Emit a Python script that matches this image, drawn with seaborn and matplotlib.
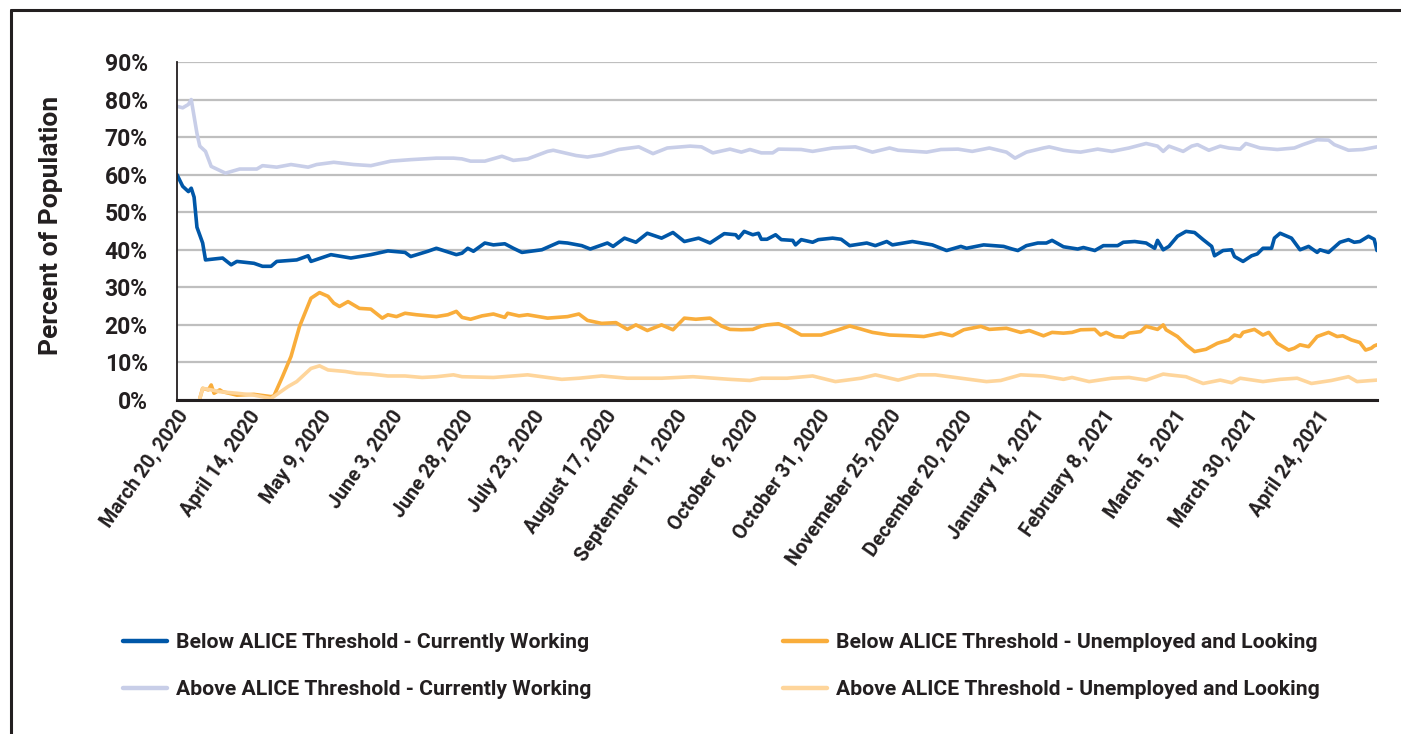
import pandas as pd
import matplotlib
matplotlib.use("Agg")
import matplotlib.pyplot as plt
from matplotlib.lines import Line2D
import seaborn as sns

# Series: day offset from March 20, 2020 and percent of population
bw_days = [0, 2, 4, 5, 6, 7, 9, 10, 16, 19, 21, 27, 30, 33, 35, 42, 46, 47, 54, 61, 68, 74, 80, 82,
           88, 91, 98, 100, 102, 104, 108, 111, 115, 118, 121, 128, 134, 137, 142, 145, 151, 153,
           157, 161, 165, 170, 174, 178, 183, 187, 192, 196, 197, 199, 202, 204, 205, 207, 210,
           212, 216, 217, 219, 223, 225, 230, 233, 236, 242, 245, 249, 251, 258, 265, 270, 275,
           277, 283, 290, 293, 295, 298, 302, 305, 307, 311, 316, 318, 322, 325, 330, 332, 336,
           340, 343, 344, 346, 348, 351, 354, 357, 360, 363, 364, 367, 370, 371, 374, 377, 379,
           381, 384, 385, 387, 391, 394, 397, 400, 401, 404, 408, 411, 413, 415, 418, 420, 421]
bw_vals = [60.0, 56.9, 55.5, 56.4, 54.0, 46.0, 41.8, 37.3, 37.8, 36.0, 36.9, 36.4, 35.6, 35.6, 36.9,
           37.3, 38.4, 36.9, 38.7, 37.8, 38.7, 39.7, 39.3, 38.2, 39.6, 40.4, 38.7, 39.1, 40.4, 39.6,
           41.8, 41.3, 41.6, 40.4, 39.3, 40.0, 42.0, 41.8, 41.1, 40.2, 41.8, 40.9, 43.1, 42.0, 44.4,
           43.1, 44.6, 42.2, 43.1, 41.8, 44.3, 44.0, 43.1, 44.9, 44.0, 44.4, 42.8, 42.8, 44.0, 42.7,
           42.5, 41.3, 42.7, 42.0, 42.7, 43.1, 42.8, 41.1, 41.8, 41.1, 42.2, 41.3, 42.2, 41.3, 39.8,
           40.9, 40.4, 41.3, 40.9, 40.2, 39.8, 41.1, 41.8, 41.8, 42.5, 40.8, 40.2, 40.6, 39.8, 41.1,
           41.1, 42.0, 42.2, 41.8, 40.4, 42.5, 40.0, 40.9, 43.6, 44.9, 44.6, 42.7, 40.9, 38.4, 39.8,
           40.0, 38.2, 36.9, 38.4, 38.9, 40.4, 40.4, 43.1, 44.4, 43.1, 40.0, 40.9, 39.3, 40.0, 39.3,
           42.0, 42.7, 42.0, 42.2, 43.6, 42.8, 39.8]

aw_days = [0, 2, 4, 5, 7, 8, 10, 12, 17, 22, 28, 30, 35, 40, 46, 49, 55, 62, 68, 75, 82, 91, 97,
           100, 103, 108, 114, 118, 123, 130, 132, 140, 144, 149, 155, 162, 167, 172, 180, 184,
           188, 194, 198, 201, 205, 209, 211, 219, 223, 230, 238, 244, 250, 253, 263, 268, 274,
           279, 285, 291, 294, 298, 304, 306, 311, 314, 317, 323, 328, 334, 340, 344, 346, 348,
           353, 356, 358, 362, 366, 369, 373, 375, 380, 386, 392, 395, 400, 404, 406, 411, 416, 421]
aw_vals = [78.2, 77.8, 78.7, 80.0, 71.0, 67.6, 66.2, 62.2, 60.4, 61.5, 61.5, 62.4, 62.0, 62.7, 62.0,
           62.7, 63.3, 62.7, 62.4, 63.6, 64.0, 64.4, 64.4, 64.2, 63.6, 63.6, 64.9, 63.8, 64.2, 66.2,
           66.5, 65.1, 64.7, 65.3, 66.7, 67.4, 65.6, 67.1, 67.6, 67.4, 65.8, 66.8, 66.0, 66.7, 65.8,
           65.8, 66.8, 66.7, 66.2, 67.1, 67.4, 66.0, 67.1, 66.5, 66.0, 66.7, 66.8, 66.2, 67.1, 66.0,
           64.4, 66.0, 67.1, 67.4, 66.5, 66.2, 66.0, 66.8, 66.2, 67.1, 68.3, 67.6, 66.2, 67.6, 66.2,
           67.6, 68.0, 66.5, 67.6, 67.1, 66.8, 68.3, 67.1, 66.7, 67.1, 68.0, 69.3, 69.2, 68.0, 66.5,
           66.7, 67.4]

bu_days = [8, 9, 11, 12, 13, 15, 16, 21, 27, 33, 34, 37, 40, 43, 47, 50, 53, 55, 57, 60, 62, 64,
           68, 72, 74, 77, 80, 84, 91, 95, 98, 100, 103, 107, 111, 115, 116, 120, 123, 130, 137,
           141, 144, 149, 154, 158, 161, 165, 170, 174, 178, 182, 187, 191, 194, 198, 202, 205,
           207, 211, 214, 219, 226, 229, 232, 236, 239, 244, 250, 257, 262, 268, 272, 276, 282,
           285, 291, 296, 299, 304, 307, 311, 314, 317, 322, 324, 326, 329, 332, 334, 338, 340,
           344, 346, 347, 351, 354, 357, 361, 365, 369, 371, 373, 374, 378, 381, 383, 386, 390,
           392, 394, 397, 400, 404, 407, 409, 412, 415, 417, 419, 420, 421]
bu_vals = [0.4, 3.1, 2.7, 4.0, 1.8, 2.7, 2.2, 1.3, 1.5, 0.9, 1.1, 6.2, 11.6, 19.6, 27.1, 28.6, 27.6,
           25.8, 24.9, 26.2, 25.3, 24.4, 24.2, 21.8, 22.7, 22.2, 23.1, 22.7, 22.2, 22.7, 23.6, 22.0,
           21.5, 22.4, 22.9, 22.0, 23.1, 22.4, 22.7, 21.8, 22.2, 22.9, 21.2, 20.4, 20.6, 18.8, 20.0,
           18.5, 20.0, 18.7, 21.8, 21.5, 21.8, 19.7, 18.8, 18.7, 18.8, 19.7, 20.0, 20.3, 19.4, 17.3,
           17.3, 18.0, 18.7, 19.7, 19.1, 18.0, 17.3, 17.1, 16.9, 17.8, 17.1, 18.7, 19.6, 18.8, 19.1,
           18.0, 18.5, 17.1, 18.0, 17.8, 18.0, 18.7, 18.8, 17.3, 18.0, 16.9, 16.7, 17.8, 18.2, 19.6,
           18.8, 20.0, 18.7, 16.9, 14.7, 12.9, 13.5, 15.1, 16.0, 17.3, 16.9, 18.0, 18.8, 17.3, 18.0,
           15.1, 13.3, 13.8, 14.7, 14.2, 16.9, 18.0, 16.9, 17.1, 16.0, 15.3, 13.3, 13.8, 14.4, 14.7]

au_days = [8, 9, 12, 15, 21, 27, 33, 39, 42, 47, 50, 53, 59, 63, 68, 74, 80, 86, 91, 97, 100, 111,
           123, 135, 141, 149, 158, 170, 181, 194, 201, 205, 214, 223, 231, 240, 245, 253, 260,
           266, 275, 284, 289, 296, 304, 311, 314, 320, 328, 334, 340, 346, 348, 354, 360, 366,
           370, 373, 381, 387, 393, 398, 405, 411, 414, 421]
au_vals = [0.4, 3.1, 2.7, 2.2, 1.8, 1.3, 0.4, 3.6, 4.9, 8.4, 9.1, 8.0, 7.6, 7.1, 6.9, 6.4, 6.4, 6.0,
           6.2, 6.7, 6.2, 6.0, 6.7, 5.5, 5.8, 6.4, 5.8, 5.8, 6.2, 5.5, 5.2, 5.8, 5.8, 6.4, 4.9, 5.8,
           6.7, 5.3, 6.7, 6.7, 5.8, 4.9, 5.2, 6.7, 6.4, 5.5, 6.0, 4.9, 5.8, 6.0, 5.3, 6.9, 6.7, 6.2,
           4.4, 5.3, 4.6, 5.8, 4.9, 5.5, 5.8, 4.4, 5.2, 6.2, 4.9, 5.3]

series_names = ["Below ALICE Threshold - Currently Working",
                "Above ALICE Threshold - Currently Working",
                "Below ALICE Threshold - Unemployed and Looking",
                "Above ALICE Threshold - Unemployed and Looking"]
colores = ["#0057A8", "#C8CEE8", "#F9AD3B", "#FED59B"]

tick_days = [0, 25, 50, 75, 100, 125, 150, 175, 200, 225, 250, 275, 300, 325, 350, 375, 400]
tick_labels = ["March 20, 2020", "April 14, 2020", "May 9, 2020", "June 3, 2020", "June 28, 2020",
               "July 23, 2020", "August 17, 2020", "September 11, 2020", "October 6, 2020",
               "October 31, 2020", "Novemeber 25, 2020", "December 20, 2020", "January 14, 2021",
               "February 8, 2021", "March 5, 2021", "March 30, 2021", "April 24, 2021"]
y_ticks = [0, 10, 20, 30, 40, 50, 60, 70, 80, 90]

# armamos un dataframe largo para seaborn
partes = []
for nombre, dias, vals in zip(series_names, [bw_days, aw_days, bu_days, au_days],
                              [bw_vals, aw_vals, bu_vals, au_vals]):
    partes.append(pd.DataFrame({"day": dias, "value": vals, "series": nombre}))
df = pd.concat(partes, ignore_index=True)

sns.set_style("white")
plt.rcParams["font.family"] = ["Roboto", "DejaVu Sans"]
texto = "#231F20"

fig = plt.figure(figsize=(14.01, 7.34), dpi=100)
ax = fig.add_axes([177 / 1401, 1 - 400 / 734, 1200 / 1401, 338 / 734])

sns.lineplot(data=df, x="day", y="value", hue="series", hue_order=series_names,
             palette=colores, linewidth=2.6, estimator=None, legend=False, ax=ax)

ax.set_xlim(0, 421)
ax.set_ylim(0, 90)
ax.set_yticks(y_ticks)
ax.set_yticklabels([f"{v}%" for v in y_ticks], fontsize=16.5, fontweight="bold", color=texto)
ax.set_xticks(tick_days)
ax.set_xticklabels(tick_labels, rotation=55, ha="right", rotation_mode="anchor",
                   fontsize=14.2, fontweight="bold", color=texto)
ax.tick_params(axis="y", length=0, pad=21)
ax.tick_params(axis="x", length=0, pad=5)
ax.set_xlabel("")
ax.set_ylabel("")
ax.yaxis.grid(True, color="#BFBFBF", linewidth=1.6)
ax.xaxis.grid(False)
for lado in ["top", "right"]:
    ax.spines[lado].set_visible(False)
ax.spines["left"].set_color(texto)
ax.spines["left"].set_linewidth(1.3)
ax.spines["bottom"].set_color(texto)
ax.spines["bottom"].set_linewidth(2.2)
ax.set_axisbelow(True)

fig.text(51 / 1401, 1 - 225 / 734, "Percent of Population", rotation=90, ha="center",
         va="center", fontsize=19, fontweight="bold", color=texto)

# leyenda en dos columnas
handles = [Line2D([0], [0], color=c, linewidth=3.2) for c in colores]
estilo_leg = dict(loc="upper left", frameon=False, borderpad=0, borderaxespad=0,
                  handlelength=2.1, handletextpad=0.42, labelspacing=1.34,
                  prop={"weight": "bold", "size": 15.2})
leg1 = fig.legend(handles[:2], series_names[:2], bbox_to_anchor=(123 / 1401, 1 - 633 / 734),
                  **estilo_leg)
leg2 = fig.legend(handles[2:], series_names[2:], bbox_to_anchor=(783 / 1401, 1 - 633 / 734),
                  **estilo_leg)
for leg in [leg1, leg2]:
    for t in leg.get_texts():
        t.set_color(texto)

# marco exterior
fig.add_artist(Line2D([11 / 1401, 1], [1 - 10 / 734, 1 - 10 / 734], color=texto, linewidth=2.2))
fig.add_artist(Line2D([11 / 1401, 11 / 1401], [0, 1 - 10 / 734], color=texto, linewidth=2.2))

fig.savefig("out.png", dpi=100)
